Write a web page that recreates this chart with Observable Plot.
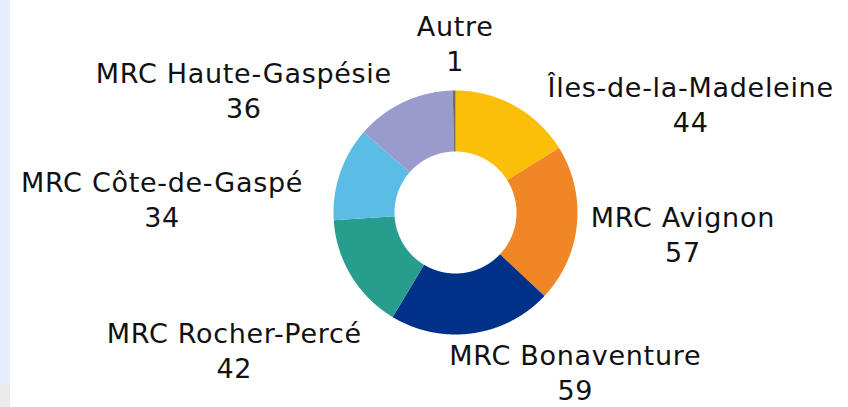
<!DOCTYPE html>
<html><head><meta charset="utf-8">
<script src="https://cdn.jsdelivr.net/npm/d3@7"></script>
<script src="https://cdn.jsdelivr.net/npm/@observablehq/plot@0.6"></script>
<style>
body{margin:0;background:#fff;}
#wrap{position:relative;width:848px;height:407px;overflow:hidden;}
#strip{position:absolute;left:0;top:0;width:10px;height:384px;background:#e3effb;}
#strip2{position:absolute;left:0;top:384px;width:10px;height:23px;background:#ebebeb;}
#chart{position:absolute;left:0;top:0;}
</style></head><body>
<div id="wrap"><div id="strip"></div><div id="strip2"></div><div id="chart"></div></div>
<script>
// Data
const categories = ["Îles-de-la-Madeleine","MRC Avignon","MRC Bonaventure","MRC Rocher-Percé","MRC Côte-de-Gaspé","MRC Haute-Gaspésie","Autre"];
const values = [44, 57, 59, 42, 34, 36, 1];
const colors = ["#fbbf0a","#f08625","#003189","#279e8d","#5bbde5","#989bcb","#6b6b6b"];
// Layout: label shift (px) from each slice's outer-edge midpoint
const labelShift = [[176,-9],[106,3],[103,32],[-117,67],[-178,19],[-160,-19],[1,-55]];

const cx = 455, cy = 212, R = 122, innerFrac = 0.5, lineGap = 35;

const pie = d3.pie().sort(null).value(d => d)(values);
const arcPts = [];
pie.forEach((p, i) => {
  const n = Math.max(2, Math.ceil((p.endAngle - p.startAngle) / 0.005));
  for (let k = 0; k <= n; k++) {
    const a = p.startAngle + (p.endAngle - p.startAngle) * k / n;
    arcPts.push({cat: categories[i], x: Math.sin(a), y: Math.cos(a)});
  }
  for (let k = n; k >= 0; k--) {
    const a = p.startAngle + (p.endAngle - p.startAngle) * k / n;
    arcPts.push({cat: categories[i], x: innerFrac * Math.sin(a), y: innerFrac * Math.cos(a)});
  }
});
const labels = pie.map((p, i) => {
  const m = (p.startAngle + p.endAngle) / 2;
  const x = Math.sin(m) + labelShift[i][0] / R;
  const y = Math.cos(m) - labelShift[i][1] / R;
  return {name: categories[i], value: String(values[i]), x, y, vy: y - lineGap / R};
});

const chart = Plot.plot({
  width: 848, height: 407, margin: 0,
  x: {domain: [-1, 1], range: [cx - R, cx + R], axis: null},
  y: {domain: [-1, 1], range: [cy + R, cy - R], axis: null},
  color: {domain: categories, range: colors},
  style: {background: "transparent", fontFamily: "'DejaVu Sans', sans-serif", letterSpacing: "0.7px", overflow: "visible"},
  marks: [
    Plot.line(arcPts, {x: "x", y: "y", z: "cat", fill: "cat", stroke: "none", curve: "linear"}),
    Plot.text(labels, {x: "x", y: "y", text: "name", lineAnchor: "bottom", fontSize: 27, fill: "#111"}),
    Plot.text(labels, {x: "x", y: "vy", text: "value", lineAnchor: "bottom", fontSize: 27, fill: "#111"})
  ]
});
document.getElementById("chart").appendChild(chart);
</script>
</body></html>
